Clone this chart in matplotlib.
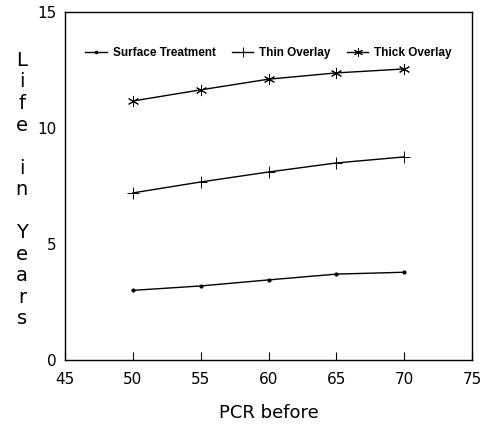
import matplotlib
matplotlib.use("Agg")
import matplotlib.pyplot as plt

pcr = [50, 55, 60, 65, 70]
surface = [3.0, 3.19, 3.45, 3.7, 3.78]
thin = [7.2, 7.67, 8.1, 8.49, 8.75]
thick = [11.16, 11.64, 12.1, 12.37, 12.54]
xticks = [45, 50, 55, 60, 65, 70, 75]
yticks = [0, 5, 10, 15]

fig = plt.figure(figsize=(4.86, 4.24), dpi=100)
ax = fig.add_axes([0.134, 0.151, 0.837, 0.821])

ax.plot(pcr, surface, color='black', lw=1.0, marker='.', ms=4, label='Surface Treatment')
ax.plot(pcr, thin, color='black', lw=1.0, marker='+', ms=9, mew=0.7, label='Thin Overlay')
ax.plot(pcr, thick, color='black', lw=1.0, marker=(6, 2, 0), ms=8, mew=0.7, label='Thick Overlay')

ax.set_xlim(45, 75)
ax.set_ylim(0, 15)
ax.set_xticks(xticks)
ax.set_yticks(yticks)
ax.tick_params(axis='x', direction='in', length=6, labelsize=11, pad=9)
ax.tick_params(axis='y', length=0, labelsize=11, pad=6)
for s in ax.spines.values():
    s.set_linewidth(1.0)

ax.set_xlabel('PCR before', fontsize=13, labelpad=12)
fig.text(0.045, 0.88, "L\ni\nf\ne\n\ni\nn\n\nY\ne\na\nr\ns", fontsize=14,
         ha='center', va='top', linespacing=1.17)

ax.legend(loc='upper center', bbox_to_anchor=(0.5, 0.93), ncol=3, frameon=False,
          handlelength=1.8, handletextpad=0.5, columnspacing=1.4, markerscale=0.8,
          prop={'family': 'Liberation Sans', 'weight': 'bold', 'size': 8.5})

fig.savefig('out.png', dpi=100)
